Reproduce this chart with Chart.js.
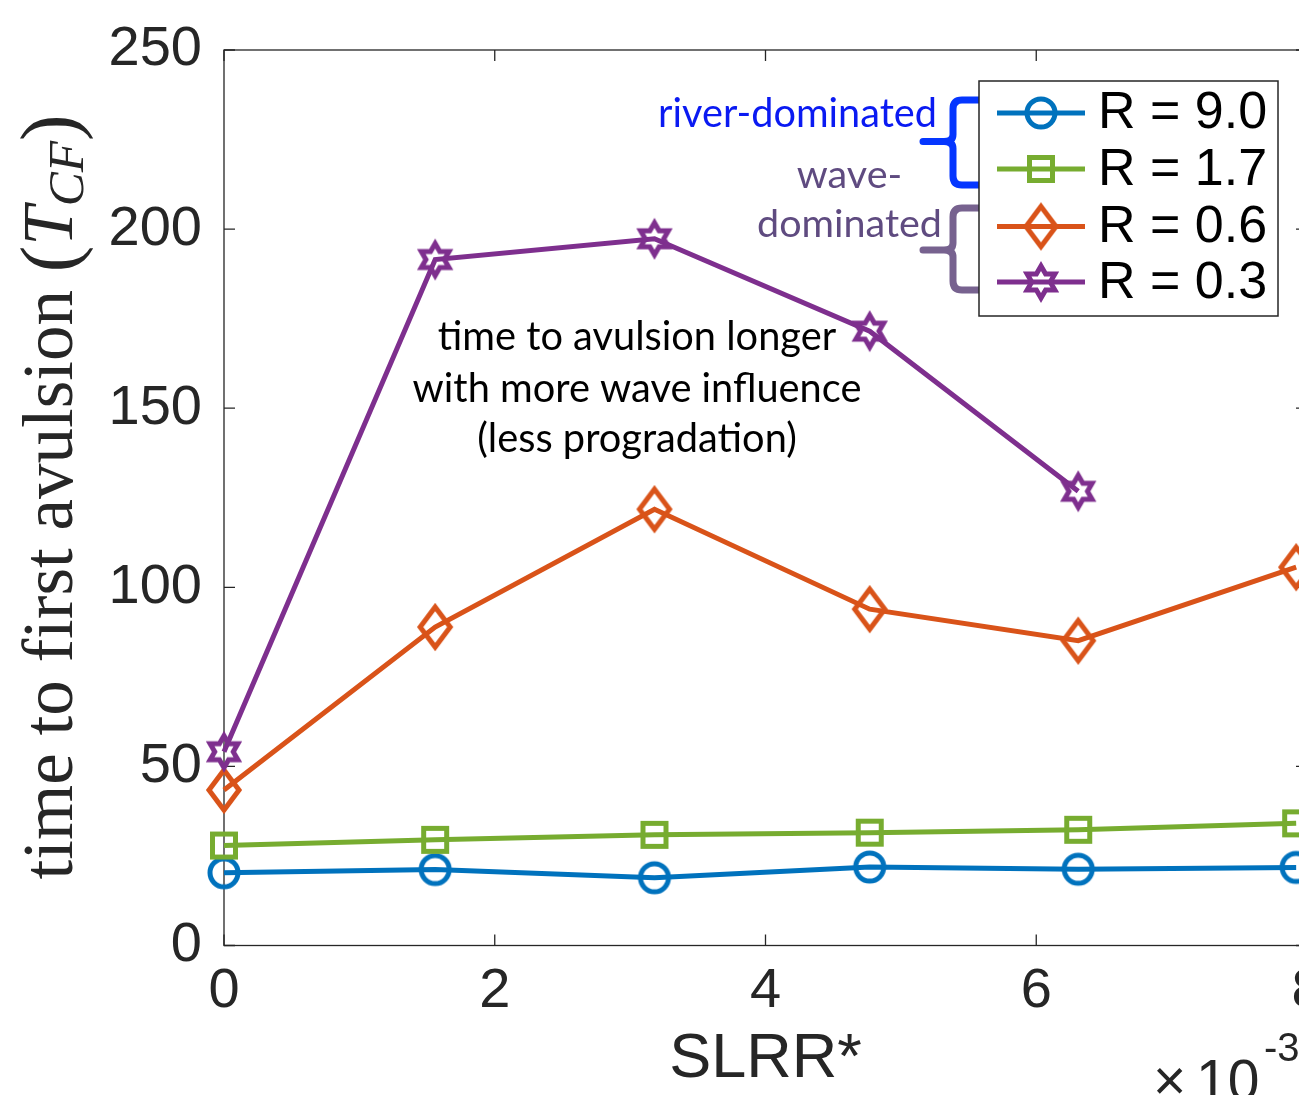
<!DOCTYPE html>
<html>
<head>
<meta charset="utf-8">
<title>time to first avulsion vs SLRR*</title>
<script src="https://cdn.jsdelivr.net/npm/chart.js@4.4.1/dist/chart.umd.min.js"></script>
<style>
  html, body { margin: 0; padding: 0; background: #fff; width: 1299px; height: 1095px; overflow: hidden; }
  canvas { display: block; }
</style>
</head>
<body>
<canvas id="chart" width="1340" height="1130"></canvas>
<script>
// ─── Data (SLRR* in units of 1e-3) ────────────────────────────────────────────
const slrr = [0, 1.56, 3.18, 4.77, 6.31, 7.92];
const r90 = [20.3, 21.2, 18.9, 21.9, 21.3, 21.8];
const r17 = [27.9, 29.5, 30.9, 31.5, 32.3, 34.1];
const r06 = [43.4, 88.9, 121.8, 93.9, 85.1, 105.6];
const r03 = [54.1, 191.5, 197.3, 171.5, 126.8];
const seriesLabels = ['R = 9.0', 'R = 1.7', 'R = 0.6', 'R = 0.3'];
const yTicks = [0, 50, 100, 150, 200, 250];
const xTicks = [0, 2, 4, 6, 8];

// ─── Layout / style ───────────────────────────────────────────────────────────
const W = 1340, H = 1130;
const AREA = { left: 224, top: 50, right: 1307, bottom: 945.5 };
const SANS = '"Liberation Sans", Arial, Helvetica, sans-serif';
const SERIF = '"Liberation Serif", "DejaVu Serif", serif';
const NOTE = 'Lato, "Noto Sans", sans-serif';
const AX = '#262626';
const LW = 5;
const colors = ['#0072BD', '#77AC30', '#D95319', '#7E2F8E'];
const kinds = ['circle', 'square', 'diamond', 'hexagram'];

// MATLAB-like open markers, drawn once to small canvases
function markerCanvas(kind, color) {
  const s = 60, m = s / 2;
  const c = document.createElement('canvas');
  c.width = s; c.height = s;
  const g = c.getContext('2d');
  g.strokeStyle = color;
  g.lineWidth = LW;
  g.lineJoin = 'miter';
  g.beginPath();
  if (kind === 'circle') {
    g.arc(m, m, 14, 0, Math.PI * 2);
  } else if (kind === 'square') {
    g.rect(m - 11.5, m - 11.5, 23, 23);
  } else if (kind === 'diamond') {
    g.moveTo(m, m - 20); g.lineTo(m + 15, m); g.lineTo(m, m + 20); g.lineTo(m - 15, m);
    g.closePath();
  } else {
    const R = 16, r = R / Math.sqrt(3);
    for (let k = 0; k < 12; k++) {
      const a = (-90 + k * 30) * Math.PI / 180;
      const rad = k % 2 ? r : R;
      const px = m + rad * Math.cos(a), py = m + rad * Math.sin(a);
      k ? g.lineTo(px, py) : g.moveTo(px, py);
    }
    g.closePath();
  }
  g.stroke();
  return c;
}
const markers = kinds.map((k, i) => markerCanvas(k, colors[i]));

const seriesValues = [r90, r17, r06, r03];
const datasets = seriesValues.map((vals, i) => ({
  label: seriesLabels[i],
  data: vals.map((v, j) => ({ x: slrr[j], y: v })),
  borderColor: colors[i],
  backgroundColor: colors[i],
  borderWidth: LW,
  pointStyle: markers[i],
  pointRadius: 16,
  tension: 0,
  clip: false,
  order: 4 - i,
}));

// ─── Helpers for the extra drawing ────────────────────────────────────────────
function fitSize(ctx, text, family, width) {
  ctx.font = '100px ' + family;
  return 100 * width / ctx.measureText(text).width;
}

function brace(ctx, top, bottom, mid, color) {
  const xr = 985, xv = 953, xt = 923, r = 9;
  ctx.save();
  ctx.strokeStyle = color;
  ctx.lineWidth = 7;
  ctx.lineCap = 'round';
  ctx.lineJoin = 'round';
  ctx.beginPath();
  ctx.moveTo(xr, top);
  ctx.lineTo(xv + r, top);
  ctx.quadraticCurveTo(xv, top, xv, top + r);
  ctx.lineTo(xv, mid - 7);
  ctx.quadraticCurveTo(xv, mid, xv - 9, mid);
  ctx.lineTo(xt, mid);
  ctx.moveTo(xv - 9, mid);
  ctx.quadraticCurveTo(xv, mid, xv, mid + 7);
  ctx.lineTo(xv, bottom - r);
  ctx.quadraticCurveTo(xv, bottom, xv + r, bottom);
  ctx.lineTo(xr, bottom);
  ctx.stroke();
  ctx.restore();
}

function drawYLabel(ctx) {
  const base = 50;
  const parts = [
    { t: 'time to first avulsion ', st: '', k: 1, dy: 0 },
    { t: '(', st: '', k: 1.12, dy: 0.05 },
    { t: 'T', st: 'italic ', k: 1, dy: 0 },
    { t: 'CF', st: 'italic ', k: 0.72, dy: 0.16 },
    { t: ')', st: '', k: 1.12, dy: 0.05 },
  ];
  const measure = size => parts.reduce((w, p) => {
    ctx.font = p.st + (size * p.k) + 'px ' + SERIF;
    return w + ctx.measureText(p.t).width;
  }, 0);
  const size = base * 765 / measure(base);
  const total = measure(size);
  ctx.save();
  ctx.translate(72, 497);
  ctx.rotate(-Math.PI / 2);
  ctx.fillStyle = AX;
  ctx.textBaseline = 'alphabetic';
  ctx.textAlign = 'left';
  let x = -total / 2;
  parts.forEach(p => {
    ctx.font = p.st + (size * p.k) + 'px ' + SERIF;
    ctx.fillText(p.t, x, p.dy * size);
    x += ctx.measureText(p.t).width;
  });
  ctx.restore();
}

// ─── Plugin: box, inward ticks, labels, notes, legend ─────────────────────────
const decor = {
  id: 'decor',
  beforeDatasetsDraw(chart) {
    const { ctx, chartArea: a, scales: { x, y } } = chart;
    const tl = 11;
    ctx.save();
    ctx.strokeStyle = AX;
    ctx.lineWidth = 1.3;
    ctx.strokeRect(a.left, a.top, a.right - a.left, a.bottom - a.top);
    ctx.beginPath();
    yTicks.forEach(v => {
      const py = y.getPixelForValue(v);
      ctx.moveTo(a.left, py); ctx.lineTo(a.left + tl, py);
      ctx.moveTo(a.right, py); ctx.lineTo(a.right - tl, py);
    });
    xTicks.forEach(v => {
      const px = x.getPixelForValue(v);
      ctx.moveTo(px, a.bottom); ctx.lineTo(px, a.bottom - tl);
      ctx.moveTo(px, a.top); ctx.lineTo(px, a.top + tl);
    });
    ctx.stroke();
    ctx.restore();
  },
  afterDraw(chart) {
    const { ctx, chartArea: a } = chart;
    ctx.save();

    // axis labels
    drawYLabel(ctx);
    ctx.fillStyle = AX;
    ctx.textAlign = 'center';
    ctx.textBaseline = 'alphabetic';
    ctx.font = '63px ' + SANS;
    ctx.fillText('SLRR*', (a.left + a.right) / 2, 1076.5);
    ctx.textAlign = 'left';
    ctx.font = '57px ' + SANS;
    ctx.fillText('\u00d7', 1153, 1100);
    ctx.fillText('10', 1196, 1100);
    ctx.font = '40px ' + SANS;
    ctx.fillText('-3', 1264, 1061);

    // centre note
    const ns = fitSize(ctx, 'with more wave influence', NOTE, 449);
    ctx.font = ns + 'px ' + NOTE;
    ctx.fillStyle = '#000';
    ctx.textAlign = 'center';
    ctx.fillText('time to avulsion longer', 637, 350);
    ctx.fillText('with more wave influence', 637, 401.5);
    ctx.fillText('(less progradation)', 637, 451.5);

    // regime labels
    const rs = fitSize(ctx, 'river-dominated', NOTE, 279);
    ctx.font = rs + 'px ' + NOTE;
    ctx.fillStyle = '#0a1af2';
    ctx.textAlign = 'right';
    ctx.fillText('river-dominated', 937, 127);
    const ws = fitSize(ctx, 'dominated', NOTE, 185);
    ctx.font = ws + 'px ' + NOTE;
    ctx.fillStyle = '#5f4b80';
    ctx.textAlign = 'center';
    ctx.fillText('wave-', 849.5, 188);
    ctx.fillText('dominated', 849.5, 237);

    brace(ctx, 100, 185, 141.5, '#0536ff');
    brace(ctx, 208, 290, 250, '#77628f');

    // legend
    const box = { l: 979, t: 81, r: 1278, b: 316 };
    ctx.fillStyle = '#fff';
    ctx.fillRect(box.l, box.t, box.r - box.l, box.b - box.t);
    ctx.strokeStyle = AX;
    ctx.lineWidth = 1.5;
    ctx.strokeRect(box.l, box.t, box.r - box.l, box.b - box.t);
    const rows = [113, 169, 226.5, 282];
    const base = [128, 185, 241.5, 298];
    ctx.font = '52px ' + SANS;
    ctx.textAlign = 'left';
    seriesLabels.forEach((lab, i) => {
      ctx.strokeStyle = colors[i];
      ctx.lineWidth = LW;
      ctx.beginPath();
      ctx.moveTo(997, rows[i]); ctx.lineTo(1085, rows[i]);
      ctx.stroke();
      const m = markers[i];
      ctx.drawImage(m, 1041 - m.width / 2, rows[i] - m.height / 2);
      ctx.fillStyle = '#000';
      ctx.fillText(lab, 1098, base[i]);
    });
    ctx.restore();
  }
};

// ─── Chart ────────────────────────────────────────────────────────────────────
const tickFont = { family: SANS, size: 56 };
new Chart(document.getElementById('chart').getContext('2d'), {
  type: 'line',
  data: { datasets },
  options: {
    responsive: false,
    animation: false,
    events: [],
    layout: { padding: { left: 0, top: AREA.top, right: W - AREA.right, bottom: 0 } },
    plugins: { legend: { display: false }, tooltip: { enabled: false } },
    scales: {
      x: {
        type: 'linear', min: 0, max: 8,
        afterBuildTicks: s => { s.ticks = xTicks.map(v => ({ value: v })); },
        afterFit: s => { s.height = H - AREA.bottom; s.paddingLeft = 0; s.paddingRight = 0; },
        ticks: { font: tickFont, color: AX, padding: 12, maxRotation: 0, autoSkip: false },
        grid: { display: false, drawTicks: false },
        border: { display: false },
      },
      y: {
        type: 'linear', min: 0, max: 250,
        afterBuildTicks: s => { s.ticks = yTicks.map(v => ({ value: v })); },
        // keep the label overhang from pushing the plot box down
        afterFit: s => { s.width = AREA.left; s.paddingTop = 0; s.paddingBottom = 0; },
        ticks: { font: tickFont, color: AX, padding: 22, autoSkip: false },
        grid: { display: false, drawTicks: false },
        border: { display: false },
      }
    }
  },
  plugins: [decor]
});
</script>
</body>
</html>
